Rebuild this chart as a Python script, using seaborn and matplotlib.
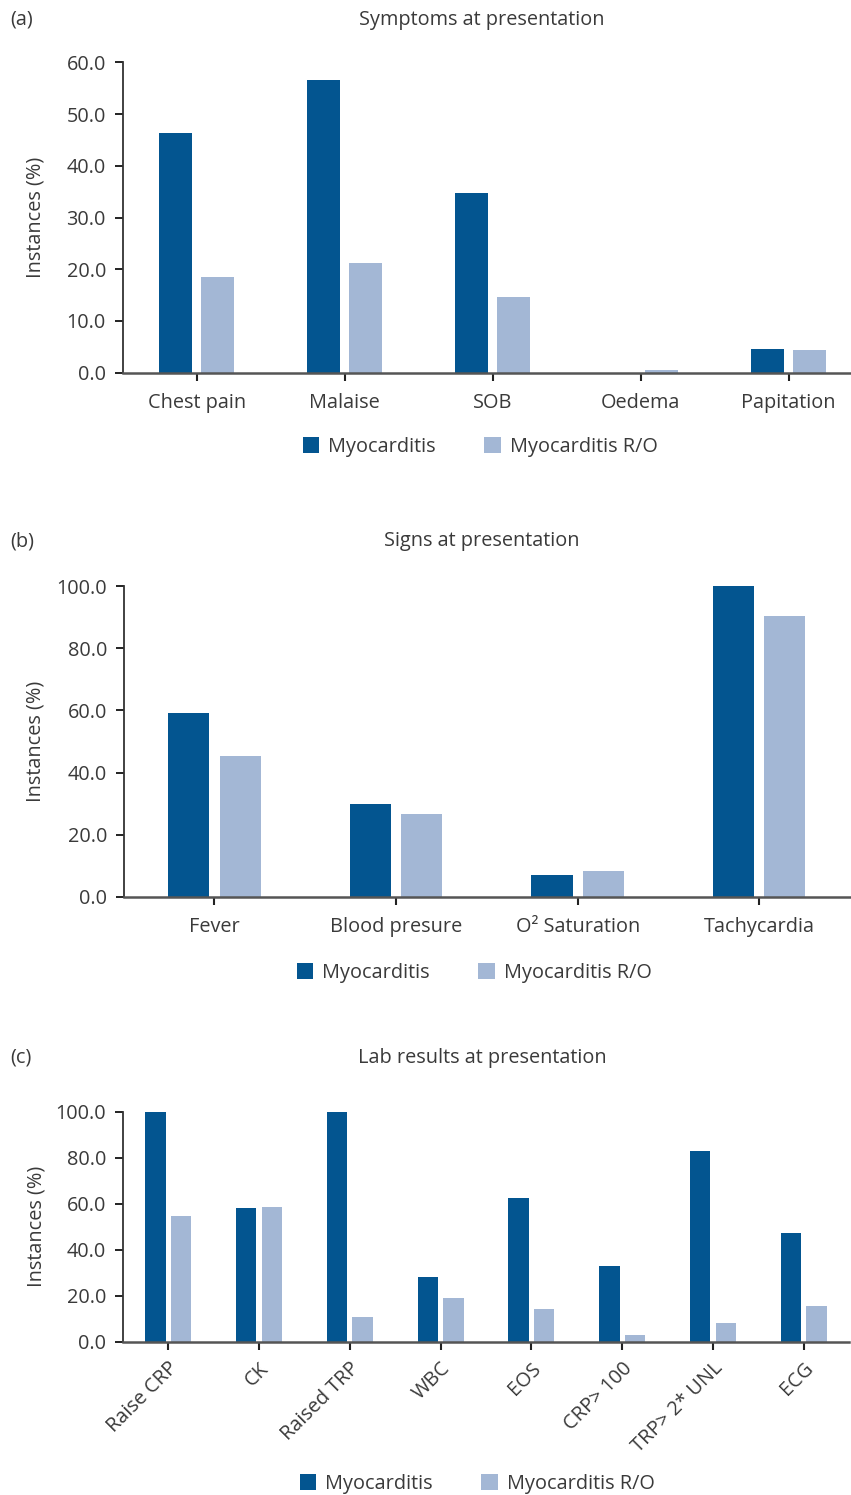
import numpy as np
import pandas as pd
import seaborn as sns
import matplotlib.pyplot as plt
from matplotlib.patches import Patch
from matplotlib.ticker import FormatStrFormatter, MultipleLocator

# ---- data ----
groups = ["Myocarditis", "Myocarditis R/O"]

symptoms = ["Chest pain", "Malaise", "SOB", "Oedema", "Papitation"]
symptoms_myo = [46.3, 56.5, 34.8, 0.0, 4.5]
symptoms_ro = [18.5, 21.3, 14.6, 0.5, 4.4]

signs = ["Fever", "Blood presure", "O\u00b2 Saturation", "Tachycardia"]
signs_myo = [59.1, 29.9, 7.0, 100.0]
signs_ro = [45.3, 26.6, 8.3, 90.4]

labs = ["Raise CRP", "CK", "Raised TRP", "WBC", "EOS", "CRP> 100", "TRP> 2* UNL", "ECG"]
labs_myo = [100.0, 58.1, 100.0, 28.3, 62.5, 33.0, 83.0, 47.3]
labs_ro = [54.5, 58.7, 10.9, 19.1, 14.3, 3.0, 8.3, 15.7]

DARK = "#035590"
LIGHT = "#A3B7D5"
TEXT = "#3a3a3a"

sns.set_style("white")
plt.rcParams["font.family"] = ["Open Sans", "DejaVu Sans"]
plt.rcParams["text.color"] = TEXT
plt.rcParams["axes.labelcolor"] = TEXT
plt.rcParams["xtick.color"] = "#222222"
plt.rcParams["ytick.color"] = "#222222"

FS = 14.3
W, H = 851, 1495
fig = plt.figure(figsize=(W / 100, H / 100), dpi=100)


def long_frame(cats, a, b):
    return pd.DataFrame({
        "category": cats * 2,
        "group": [groups[0]] * len(cats) + [groups[1]] * len(cats),
        "value": list(a) + list(b),
    })


def panel(rect_px, cats, a, b, ymax, ystep, rotate=False):
    left, top, right, bottom = rect_px
    ax = fig.add_axes([left / W, 1 - bottom / H, (right - left) / W, (bottom - top) / H])
    df = long_frame(cats, a, b)
    sns.barplot(data=df, x="category", y="value", hue="group", order=cats,
                hue_order=groups, palette=[DARK, LIGHT], width=0.565, gap=0.2,
                saturation=1, legend=False, ax=ax, linewidth=0)
    ax.set_xlim(-0.5, len(cats) - 0.5)
    ax.set_ylim(0, ymax)
    ax.yaxis.set_major_locator(MultipleLocator(ystep))
    ax.yaxis.set_major_formatter(FormatStrFormatter("%.1f"))
    for s in ("top", "right"):
        ax.spines[s].set_visible(False)
    ax.spines["left"].set_color("#333333")
    ax.spines["left"].set_linewidth(1.3)
    ax.spines["bottom"].set_color("#555555")
    ax.spines["bottom"].set_linewidth(1.8)
    ax.tick_params(axis="y", direction="out", length=6, width=1.4, pad=6,
                   labelsize=FS, labelcolor=TEXT, left=True)
    ax.tick_params(axis="x", direction="out", length=6, width=1.5, pad=8.5,
                   labelsize=FS, labelcolor=TEXT, bottom=True)
    ax.set_xlabel("")
    ax.set_ylabel("Instances (%)", fontsize=FS, color=TEXT)
    ax.yaxis.set_label_coords((46 - left) / (right - left), 0.5)
    if rotate:
        ax.tick_params(axis="x", pad=6)
        for lab in ax.get_xticklabels():
            lab.set_rotation(45)
            lab.set_ha("right")
            lab.set_rotation_mode("anchor")
    return ax


def header(tag, title, y_px):
    fig.text(10 / W, 1 - y_px / H, tag, fontsize=FS, va="center", ha="left", color=TEXT)
    fig.text(482 / W, 1 - y_px / H, title, fontsize=FS, va="center", ha="center", color=TEXT)


def legend(cx_px, cy_px):
    handles = [Patch(facecolor=DARK, edgecolor="none"), Patch(facecolor=LIGHT, edgecolor="none")]
    fig.legend(handles, groups, loc="center", bbox_to_anchor=(cx_px / W, 1 - cy_px / H),
               ncol=2, frameon=False, fontsize=FS, handlelength=0.85, handleheight=0.85,
               handletextpad=0.45, columnspacing=2.4, borderaxespad=0, borderpad=0)


header("(a)", "Symptoms at presentation", 20)
panel((122.6, 62.3, 862.6, 372.7), symptoms, symptoms_myo, symptoms_ro, 60, 10)
legend(480, 447)

header("(b)", "Signs at presentation", 541)
panel((123.7, 586.3, 850.0, 896.7), signs, signs_myo, signs_ro, 100, 20)
legend(474, 973)

header("(c)", "Lab results at presentation", 1058)
panel((122.8, 1111.7, 849.2, 1341.7), labs, labs_myo, labs_ro, 100, 20, rotate=True)
legend(477, 1484)

fig.savefig("out.png", dpi=100)
